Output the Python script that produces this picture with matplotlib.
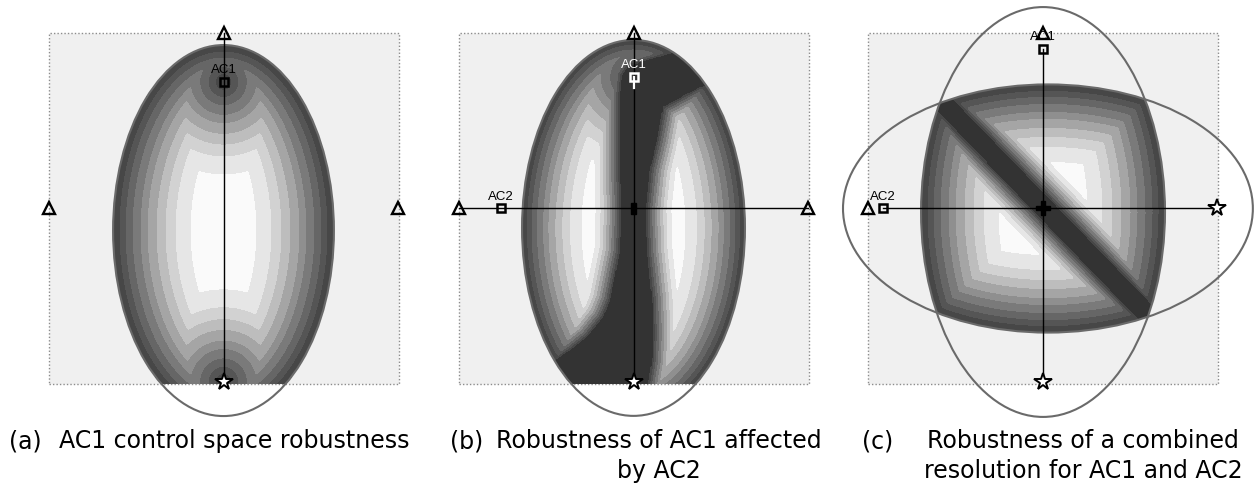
# plot.py - robustness maps of the AC1 / AC2 control space

import numpy as np
import matplotlib
matplotlib.use("Agg")
from matplotlib import pyplot as plt
from matplotlib.patches import Ellipse, Rectangle
from matplotlib.path import Path

W, H = 1254, 486
PX = 175.0                       # pixels per control-space unit
ORIGIN_Y = 208.5                 # pixel row of the horizontal axis
PANEL_X = [223.5, 633.5, 1042.5]  # pixel column of each panel centre

# robustness levels (distance, in pixels at this scale) and their grays
LEVELS_PX = [7, 13, 20, 28, 35, 44, 53, 63, 78]
GRAYS = ["#474747", "#555555", "#666666", "#7a7a7a", "#8f8f8f",
         "#a5a5a5", "#bdbdbd", "#d2d2d2", "#e6e6e6", "#fafafa"]
BAND_COLOR = "#333333"
POINT_WEIGHT = 0.84   # rings around the aircraft grow a bit slower
BAND_WEIGHT = 3.0     # robustness rises fast away from the conflict band
EDGE_GAIN_B = 1.3     # panel (b) bands are wider than in (a)

# ellipses: centre x, centre y, half width, half height (control units)
ELL_A = (0.0, -0.126, 0.631, 1.06)
ELL_B = (0.0, -0.111, 0.637, 1.074)
ELL_C_H = (0.031, 0.0, 1.171, 0.709)
ELL_C_V = (0.003, -0.02, 0.697, 1.171)

# aircraft positions
AC1_A = (0.0, 0.723)
AC1_B = (0.0, 0.751)
AC2_B = (-0.757, 0.0)
AC1_C = (0.0, 0.911)
AC2_C = (-0.911, 0.0)

# markers at the ends of the axes
TRI_A = [(0.0, 1.0), (-0.997, 0.0), (0.997, 0.0)]
STAR_A = [(0.0, -0.99)]
TRI_B = [(0.0, 1.0), (-0.997, 0.0), (0.997, 0.0)]
STAR_B = [(0.0, -0.99)]
TRI_C = [(0.0, 1.0), (-0.997, 0.0)]
STAR_C = [(0.0, -0.99), (0.997, 0.0)]

# conflict band of panel (b), polygon outline (control units)
BAND_B_U = [-0.077, -0.066, -0.031, 0.083, 0.22, 0.38, 0.637, 0.38, 0.169,
            0.134, 0.094, 0.071, 0.077, 0.106, 0.111, 0.106, 0.083, 0.083,
            -0.649, -0.649, -0.477, -0.363, -0.266, -0.174, -0.134, -0.077,
            -0.071, -0.077]
BAND_B_V = [0.649, 0.763, 0.814, 0.849, 0.889, 1.02, 0.763, 0.694, 0.58,
            0.391, 0.22, -0.009, -0.237, -0.523, -0.711, -0.866, -1.009,
            -1.209, -1.209, -0.923, -0.883, -0.809, -0.734, -0.62, -0.523,
            -0.237, -0.009, 0.22]

# conflict band of panel (c): straight strip between two points
BAND_C_P0 = (-0.546, 0.58)
BAND_C_P1 = (0.574, -0.58)
BAND_C_HALF = 0.057

CAPTIONS = [
    ("(a)", 9, ["AC1 control space robustness"], 59, "left"),
    ("(b)", 450, ["Robustness of AC1 affected", "by AC2"], 659, "center"),
    ("(c)", 862, ["Robustness of a combined",
                  "resolution for AC1 and AC2"], 1083, "center"),
]
CAPTION_Y = [441, 471]

GRID = 321


def ellipse_points(ell, n=720):
    """Points on the outline of an ellipse."""
    cx, cy, a, b = ell
    t = np.linspace(0, 2 * np.pi, n, endpoint=False)
    return np.column_stack([cx + a * np.cos(t), cy + b * np.sin(t)])


def inside_ellipse(X, Y, ell):
    cx, cy, a, b = ell
    return ((X - cx) / a) ** 2 + ((Y - cy) / b) ** 2 <= 1.0


def polygon_points(us, vs, step=0.004):
    """Densely sample the edges of a closed polygon."""
    pts = []
    n = len(us)
    for i in range(n):
        p0 = np.array([us[i], vs[i]])
        p1 = np.array([us[(i + 1) % n], vs[(i + 1) % n]])
        k = max(2, int(np.hypot(*(p1 - p0)) / step))
        s = np.linspace(0, 1, k, endpoint=False)[:, None]
        pts.append(p0 + s * (p1 - p0))
    return np.vstack(pts)


def dist_to_points(X, Y, pts, chunk=2000):
    """Smallest euclidean distance from every grid node to a point set."""
    P = np.column_stack([X.ravel(), Y.ravel()])
    out = np.empty(len(P))
    for i in range(0, len(P), chunk):
        d = P[i:i + chunk, None, :] - pts[None, :, :]
        out[i:i + chunk] = np.sqrt((d ** 2).sum(-1)).min(1)
    return out.reshape(X.shape)


def dist_to_point(X, Y, p):
    return np.hypot(X - p[0], Y - p[1])


def make_axes(fig, k):
    """Axes where one control unit is PX pixels, centred on panel k."""
    x0, x1, y0, y1 = -1.3, 1.3, -1.35, 1.22
    left = (PANEL_X[k] + x0 * PX) / W
    bottom = (H - (ORIGIN_Y - y0 * PX)) / H
    ax = fig.add_axes([left, bottom, (x1 - x0) * PX / W, (y1 - y0) * PX / H])
    ax.set_xlim(x0, x1)
    ax.set_ylim(y0, y1)
    ax.axis("off")
    ax.patch.set_alpha(0)
    ax.add_patch(Rectangle((-1, -1), 2, 2, facecolor="#f0f0f0",
                           edgecolor="#8c8c8c", lw=1, ls=(0, (1, 1.5)),
                           zorder=0))
    return ax


def draw_field(ax, X, Y, field, mask):
    levels = [-10, 0] + [v / PX for v in LEVELS_PX] + [100]
    Z = np.ma.masked_where(~mask, field)
    ax.contourf(X, Y, Z, levels=levels, colors=[BAND_COLOR] + GRAYS,
                zorder=1, antialiased=False)


def draw_outline(ax, ell):
    cx, cy, a, b = ell
    ax.add_patch(Ellipse((cx, cy), 2 * a, 2 * b, fill=False,
                         edgecolor="#6a6a6a", lw=1.5, zorder=3))


def draw_marks(ax, tris, stars, acs):
    for u, v in tris:
        ax.plot(u, v, marker="^", ms=8.5, mfc="none", mec="black", mew=1.7,
                zorder=6)
    for u, v in stars:
        ax.plot(u, v, marker="*", ms=13, mfc="white", mec="black", mew=1.4,
                zorder=6)
    for (u, v), name, col in acs:
        ax.plot(u, v, marker="s", ms=5.5, mfc="none", mec=col, mew=1.8,
                zorder=6)
        ax.text(u, v + 12 / PX, name, color=col, fontsize=9.5, ha="center",
                va="center", family=["Liberation Sans", "DejaVu Sans"],
                zorder=7)


def main():
    fig = plt.figure(figsize=(W / 100, H / 100), dpi=100)
    g = np.linspace(-1, 1, GRID)
    X, Y = np.meshgrid(g, g)

    # (a) AC1 alone
    ax = make_axes(fig, 0)
    f = np.minimum(dist_to_points(X, Y, ellipse_points(ELL_A)),
                   POINT_WEIGHT * dist_to_point(X, Y, AC1_A))
    f = np.minimum(f, POINT_WEIGHT * dist_to_point(X, Y, STAR_A[0]))
    draw_field(ax, X, Y, f, inside_ellipse(X, Y, ELL_A))
    draw_outline(ax, ELL_A)
    ax.plot([0, 0], [1.0, -0.99], color="black", lw=1, zorder=4)
    draw_marks(ax, TRI_A, STAR_A, [(AC1_A, "AC1", "black")])

    # (b) AC1 affected by AC2
    ax = make_axes(fig, 1)
    band = Path(np.column_stack([BAND_B_U, BAND_B_V]))
    in_band = band.contains_points(
        np.column_stack([X.ravel(), Y.ravel()])).reshape(X.shape)
    f = np.minimum(EDGE_GAIN_B * dist_to_points(X, Y, ellipse_points(ELL_B)),
                   BAND_WEIGHT * dist_to_points(
                       X, Y, polygon_points(BAND_B_U, BAND_B_V)))
    f = np.minimum(f, POINT_WEIGHT * dist_to_point(X, Y, AC1_B))
    f[in_band] = -1
    draw_field(ax, X, Y, f, inside_ellipse(X, Y, ELL_B))
    draw_outline(ax, ELL_B)
    ax.plot([0, 0], [1.0, -0.99], color="black", lw=1, zorder=4)
    ax.plot([-0.997, 0.997], [0, 0], color="black", lw=1, zorder=4)
    ax.plot([0, 0], [AC1_B[1], AC1_B[1] - 0.065], color="white", lw=1.6,
            zorder=5)
    ax.add_patch(Rectangle((-0.013, -0.032), 0.026, 0.064, color="black",
                           zorder=5))
    draw_marks(ax, TRI_B, STAR_B,
               [(AC1_B, "AC1", "white"), (AC2_B, "AC2", "black")])

    # (c) combined resolution
    ax = make_axes(fig, 2)
    p0 = np.array(BAND_C_P0)
    p1 = np.array(BAND_C_P1)
    d = (p1 - p0) / np.hypot(*(p1 - p0))
    perp = np.abs((X - p0[0]) * d[1] - (Y - p0[1]) * d[0])
    f = np.minimum(dist_to_points(X, Y, ellipse_points(ELL_C_H)),
                   dist_to_points(X, Y, ellipse_points(ELL_C_V)))
    f = np.minimum(f, BAND_WEIGHT * np.maximum(perp - BAND_C_HALF, 0))
    f[perp < BAND_C_HALF] = -1
    mask = inside_ellipse(X, Y, ELL_C_H) & inside_ellipse(X, Y, ELL_C_V)
    draw_field(ax, X, Y, f, mask)
    draw_outline(ax, ELL_C_H)
    draw_outline(ax, ELL_C_V)
    ax.plot([0, 0], [AC1_C[1], -0.99], color="black", lw=1, zorder=4)
    ax.plot([AC2_C[0], 0.997], [0, 0], color="black", lw=1, zorder=4)
    ax.plot(0, 0, marker="P", ms=10, color="black", zorder=5)
    draw_marks(ax, TRI_C, STAR_C,
               [(AC1_C, "AC1", "black"), (AC2_C, "AC2", "black")])

    # captions
    for tag, tx, lines, lx, ha in CAPTIONS:
        fig.text(tx / W, 1 - CAPTION_Y[0] / H, tag, fontsize=17,
                 va="center", ha="left", family="DejaVu Sans")
        for line, y in zip(lines, CAPTION_Y):
            fig.text(lx / W, 1 - y / H, line, fontsize=17, va="center",
                     ha=ha, family="DejaVu Sans")

    fig.savefig("out.png", dpi=100)


if __name__ == "__main__":
    main()
